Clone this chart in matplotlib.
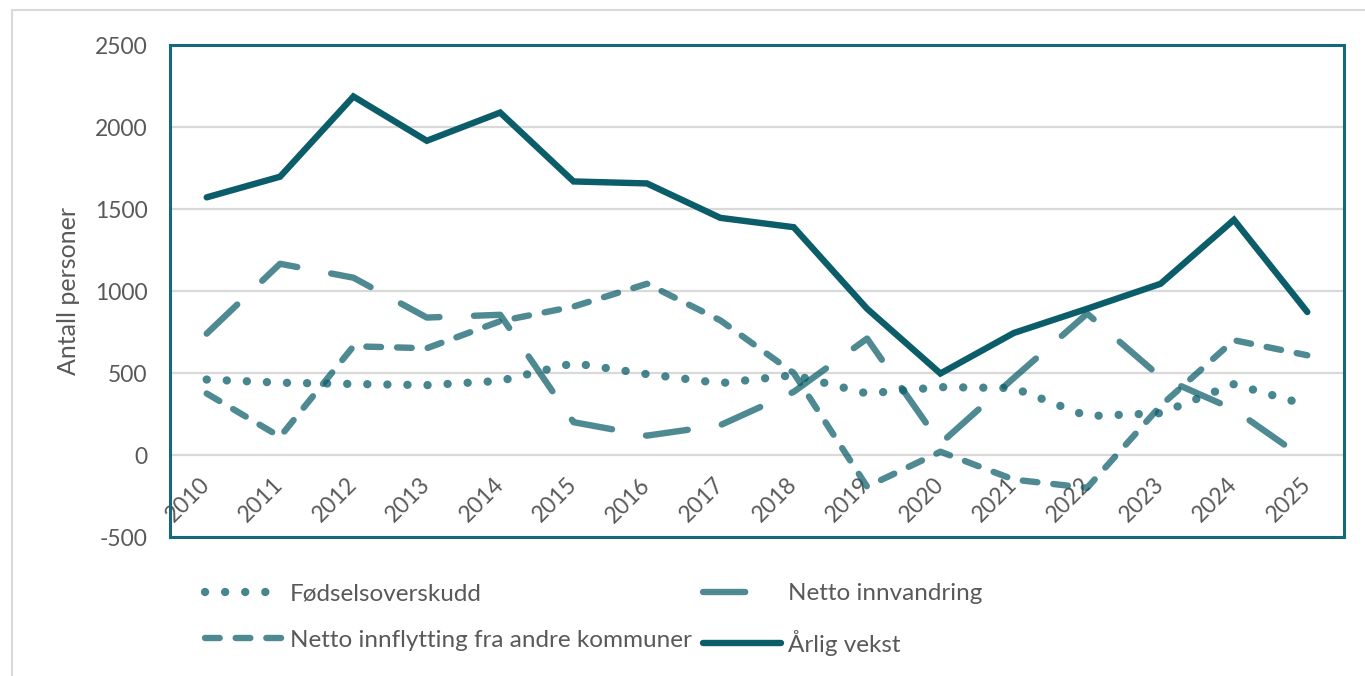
import matplotlib
matplotlib.use('Agg')
import matplotlib.pyplot as plt
from matplotlib.lines import Line2D

plt.rcParams['font.family'] = ['Lato', 'DejaVu Sans']
plt.rcParams['axes.unicode_minus'] = False

years = ['2010', '2011', '2012', '2013', '2014', '2015', '2016', '2017',
         '2018', '2019', '2020', '2021', '2022', '2023', '2024', '2025']
fodselsoverskudd = [460, 441, 433, 426, 452, 560, 493, 438, 487, 375, 414, 408, 237, 255, 432, 304]
netto_innvandring = [740, 1166, 1081, 838, 855, 200, 118, 182, 385, 710, 70, 470, 862, 475, 278, -35]
netto_innflytting = [375, 111, 663, 651, 816, 905, 1044, 821, 500, -193, 20, -150, -200, 300, 700, 608]
arlig_vekst = [1571, 1697, 2186, 1916, 2088, 1668, 1656, 1446, 1389, 892, 497, 744, 892, 1044, 1434, 872]

dark = '#0B5D6A'
text_grey = '#595959'

fig = plt.figure(figsize=(13.65, 6.76), dpi=100)
ax = fig.add_axes([170 / 1365, 1 - 537 / 676, 1174 / 1365, 492 / 676])

x = list(range(len(years)))

dot_style = dict(color=dark, alpha=0.75, lw=6.0, linestyle=(0, (0.01, 2.4)), dash_capstyle='round')
long_style = dict(color=dark, alpha=0.72, lw=4.6, linestyle=(0, (6.6, 5.4)), dash_capstyle='round')
mid_style = dict(color=dark, alpha=0.72, lw=4.6, linestyle=(0, (2.3, 2.5)), dash_capstyle='round')
solid_style = dict(color=dark, lw=4.6, solid_capstyle='round', solid_joinstyle='miter')

ax.plot(x, fodselsoverskudd, **dot_style)
ax.plot(x, netto_innvandring, **long_style)
ax.plot(x, netto_innflytting, **mid_style)
ax.plot(x, arlig_vekst, **solid_style)

ax.set_xlim(-0.5, len(years) - 0.5)
ax.set_ylim(-500, 2500)
ax.set_yticks(range(-500, 2501, 500))
ax.grid(axis='y', color='#D9D9D9', lw=1.6)
ax.set_axisbelow(True)

for s in ax.spines.values():
    s.set_color('#16697A')
    s.set_linewidth(2.2)

ax.tick_params(axis='y', length=0, pad=16, labelsize=16.5, labelcolor=text_grey)
ax.set_xticks(x)
ax.set_xticklabels(years, rotation=45, ha='right', va='center',
                   rotation_mode='anchor', fontsize=16.5, color=text_grey)
ax.tick_params(axis='x', length=0, pad=-40)

fig.text(68 / 1365, 1 - 291 / 676, 'Antall personer', rotation=90,
         ha='center', va='center', fontsize=18, color=text_grey)

# outer chart-area border (left and top only visible)
fig.add_artist(Line2D([12 / 1365, 12 / 1365], [0, 1 - 10 / 676], color='#D9D9D9', lw=1.5))
fig.add_artist(Line2D([12 / 1365, 1], [1 - 10 / 676, 1 - 10 / 676], color='#D9D9D9', lw=1.5))

# legend proxies (long dash handle shows a single dash as in the original)
h1 = Line2D([], [], **dot_style)
h2 = Line2D([], [], **dict(long_style, linestyle=(0, (6.6, 12))))
h3 = Line2D([], [], **mid_style)
h4 = Line2D([], [], **solid_style)

leg = fig.legend([h1, h3, h2, h4],
                 ['Fødselsoverskudd', 'Netto innflytting fra andre kommuner',
                  'Netto innvandring', 'Årlig vekst'],
                 ncol=2, loc='upper left', bbox_to_anchor=(205 / 1365, 1 - 583 / 676),
                 frameon=False, borderpad=0, borderaxespad=0,
                 handlelength=3.2, handletextpad=0.3, columnspacing=0.45,
                 labelspacing=1.05, fontsize=17.5)
for t in leg.get_texts():
    t.set_color(text_grey)

fig.savefig('out.png', dpi=100)
